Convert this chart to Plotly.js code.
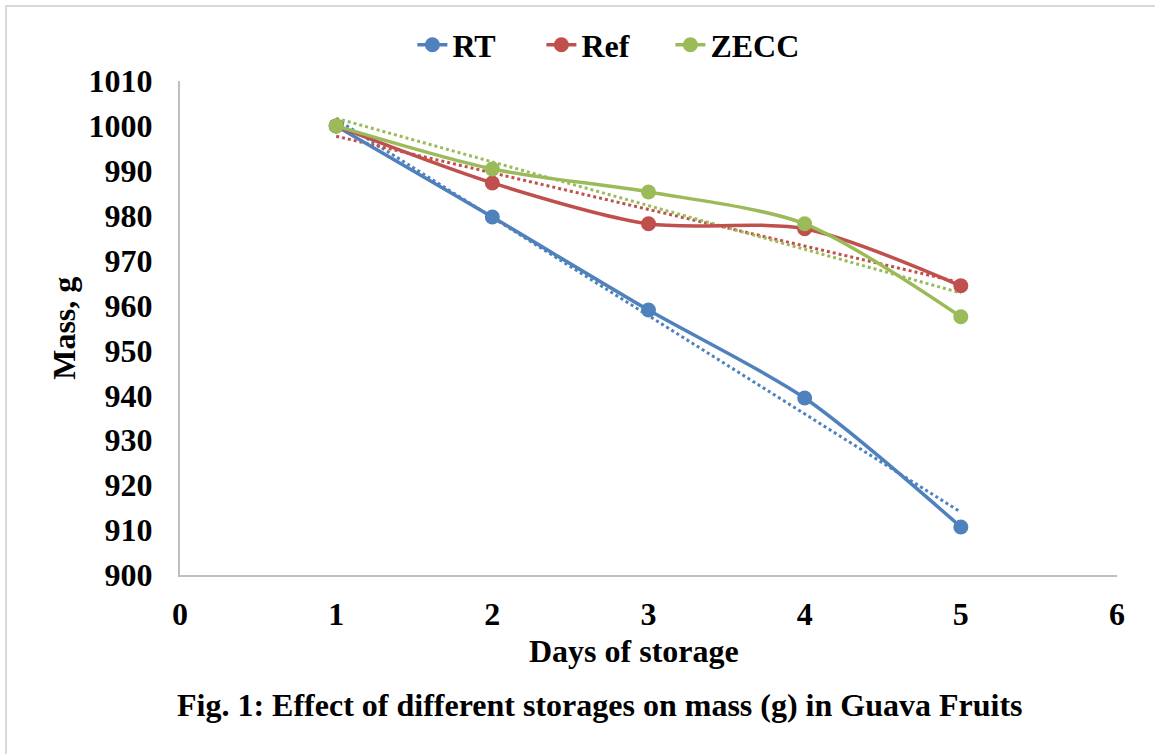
<!DOCTYPE html>
<html>
<head>
<meta charset="utf-8">
<script src="https://cdn.plot.ly/plotly-3.0.1.min.js"></script>
<style>
html,body{margin:0;padding:0;background:#fff;overflow:hidden;}
#chart{width:1155px;height:754px;}
#frame{position:absolute;left:5px;top:5px;width:1300px;height:900px;border:2px solid #d9d9d9;pointer-events:none;}
</style>
</head>
<body>
<div id="chart"></div>
<div id="frame"></div>
<script>
// Data
const days = [1, 2, 3, 4, 5];
const rtMass = [1000, 979.7, 959.0, 939.4, 910.7];
const refMass = [1000, 987.3, 978.2, 977.1, 964.4];
const zeccMass = [1000, 990.4, 985.3, 978.2, 957.5];

// Linear trendline end points
const trendDays = [1, 5];
const rtTrend = [1001.5, 914.0];
const refTrend = [997.7, 965.1];
const zeccTrend = [1001.7, 962.8];

const seriesNames = ['RT', 'Ref', 'ZECC'];
const colors = ['#4F81BD', '#C0504D', '#9BBB59'];

const xTicks = [0, 1, 2, 3, 4, 5, 6];
const yTicks = [900, 910, 920, 930, 940, 950, 960, 970, 980, 990, 1000, 1010];

const font = 'Liberation Serif, Times New Roman, serif';
const fs = 32;

const mains = [rtMass, refMass, zeccMass];
const trends = [rtTrend, refTrend, zeccTrend];

const traces = [];
for (let i = 0; i < 3; i++) {
  traces.push({
    x: trendDays, y: trends[i], mode: 'lines', showlegend: false, hoverinfo: 'skip',
    line: {color: colors[i], width: 3, dash: 'dot'}
  });
}
for (let i = 0; i < 3; i++) {
  traces.push({
    x: days, y: mains[i], name: seriesNames[i], mode: 'lines+markers',
    line: {color: colors[i], width: 3.5, shape: 'spline', smoothing: 0.8},
    marker: {color: colors[i], size: 15}
  });
}

const tf = {family: font, size: fs, color: '#000', weight: 'bold'};

const layout = {
  width: 1155, height: 754,
  margin: {l: 180, r: 38, t: 81, b: 179, autoexpand: false},
  paper_bgcolor: '#fff', plot_bgcolor: '#fff',
  font: tf,
  showlegend: true,
  legend: {
    orientation: 'h', x: 0.248, xanchor: 'left', y: 1.073, yanchor: 'middle',
    font: tf, traceorder: 'normal', entrywidth: 84, entrywidthmode: 'pixels'
  },
  xaxis: {
    range: [0, 6], tickvals: xTicks, ticktext: xTicks.map(String),
    showgrid: false, zeroline: false, showline: true, linecolor: '#bfbfbf', linewidth: 2,
    ticks: '', ticklabelstandoff: 10,
    tickfont: tf
  },
  yaxis: {
    range: [900, 1010], tickvals: yTicks, ticktext: yTicks.map(String),
    showgrid: false, zeroline: false, showline: true, linecolor: '#bfbfbf', linewidth: 2,
    ticks: '', ticklabelstandoff: 19,
    tickfont: tf
  },
  annotations: [
    {
      text: 'Days of storage',
      xref: 'paper', yref: 'paper', x: 0.4845, y: -0.154, xanchor: 'center', yanchor: 'middle',
      showarrow: false, font: tf
    },
    {
      text: 'Mass, g', textangle: -90,
      xref: 'paper', yref: 'paper', x: -0.124, y: 0.5, xanchor: 'center', yanchor: 'middle',
      showarrow: false, font: tf
    },
    {
      text: 'Fig. 1: Effect of different storages on mass (g) in Guava Fruits',
      xref: 'paper', yref: 'paper', x: 0.448, y: -0.263, xanchor: 'center', yanchor: 'middle',
      showarrow: false, font: tf
    }
  ]
};

Plotly.newPlot('chart', traces, layout, {displayModeBar: false, staticPlot: true});
</script>
</body>
</html>
